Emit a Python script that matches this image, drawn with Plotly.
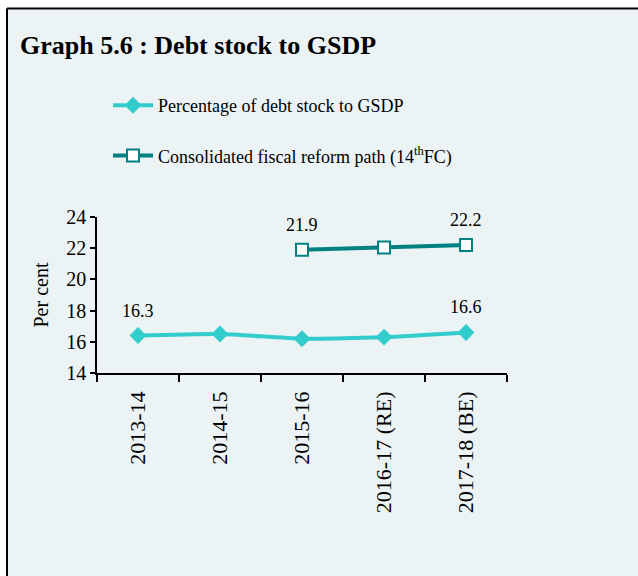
import plotly.graph_objects as go

# data
years = ["2013-14", "2014-15", "2015-16", "2016-17 (RE)", "2017-18 (BE)"]
debt_pct = [16.4, 16.5, 16.2, 16.3, 16.6]
debt_labels = ["16.3", "", "", "", "16.6"]
fc_years = ["2015-16", "2016-17 (RE)", "2017-18 (BE)"]
fc_path = [21.9, 22.05, 22.2]
fc_labels = ["21.9", "", "22.2"]

W, H = 638, 576
L, R, T, B = 97, 131, 217, 203
pw, ph = W - L - R, H - T - B

font = "Liberation Serif, Times New Roman, serif"
panel = "#EBF3F5"

fig = go.Figure()

fig.add_trace(go.Scatter(
    x=years, y=debt_pct, mode="lines+markers",
    name="Percentage of debt stock to GSDP",
    line=dict(color="#33CCCC", width=4, shape="spline", smoothing=0.6),
    marker=dict(symbol="diamond", size=13, color="#33CCCC"),
    legendgroup="a",
))
fig.add_trace(go.Scatter(
    x=fc_years, y=fc_path, mode="lines+markers",
    name="Consolidated fiscal reform path (14<sup>th</sup>FC)",
    line=dict(color="#008080", width=4),
    marker=dict(symbol="square", size=12, color="white",
                line=dict(color="#008080", width=2)),
    legendgroup="b",
))

# data labels above the points
for xs, ys, labs in [(years, debt_pct, debt_labels), (fc_years, fc_path, fc_labels)]:
    for x, y, t in zip(xs, ys, labs):
        if t:
            fig.add_annotation(x=x, y=y, text=t, showarrow=False, yshift=25,
                               font=dict(family=font, size=18, color="black"))

# panel background with left/top border
def px_x(p):
    return (p - L) / pw

def px_y(p):
    return (H - B - p) / ph

fig.add_shape(type="rect", xref="paper", yref="paper", layer="below",
              x0=px_x(7), x1=px_x(W + 5), y0=px_y(H + 5), y1=px_y(8),
              fillcolor=panel, line=dict(width=0))
fig.add_shape(type="line", xref="paper", yref="paper", layer="below",
              x0=px_x(7), x1=px_x(7), y0=px_y(H + 5), y1=px_y(8.5),
              line=dict(color="black", width=2))
fig.add_shape(type="line", xref="paper", yref="paper", layer="below",
              x0=px_x(7), x1=px_x(W + 5), y0=px_y(8.5), y1=px_y(8.5),
              line=dict(color="black", width=2))

fig.update_layout(
    width=W, height=H,
    margin=dict(l=L, r=R, t=T, b=B),
    paper_bgcolor="white", plot_bgcolor="rgba(0,0,0,0)",
    font=dict(family=font, color="black", size=18),
    title=dict(text="<b>Graph 5.6 : Debt stock to GSDP</b>",
               x=20 / W, xanchor="left", y=1 - 45 / H, yanchor="middle",
               font=dict(family=font, size=26, color="black")),
    showlegend=True,
    legend=dict(x=px_x(108), y=px_y(87), xanchor="left", yanchor="top",
                bgcolor="rgba(0,0,0,0)", font=dict(family=font, size=18),
                traceorder="grouped", tracegroupgap=24, itemwidth=40),
    xaxis=dict(type="category", categoryarray=years, range=[-0.5, 4.5],
               showline=True, linecolor="black", linewidth=1.5,
               ticks="outside", tickson="boundaries", ticklen=7,
               tickcolor="black", tickwidth=1.5, tickangle=-90,
               ticklabelstandoff=8,
               tickfont=dict(family=font, size=22), showgrid=False),
    yaxis=dict(range=[14, 24], dtick=2, showline=True, linecolor="black",
               linewidth=1.5, ticks="outside", ticklen=5, tickcolor="black",
               tickwidth=1.5, showgrid=False, zeroline=False,
               tickfont=dict(family=font, size=20),
               title=dict(text="Per cent", standoff=12,
                          font=dict(family=font, size=20))),
)

# drop the default page margin so the figure fills the window
fig.write_html("out.html", config={"displayModeBar": False},
               post_script="document.body.style.margin='0';"
                           "document.documentElement.style.overflow='hidden';")
